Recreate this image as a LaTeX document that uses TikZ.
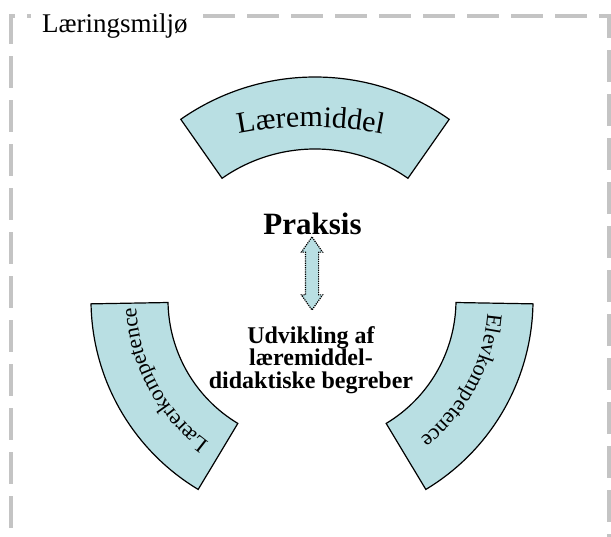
\documentclass[tikz,border=0pt]{standalone}
\usepackage{fontspec}
\setmainfont{Liberation Serif}
\usetikzlibrary{decorations.text,shapes.arrows}

\definecolor{bandblue}{RGB}{185,223,227}
\definecolor{framegray}{RGB}{196,196,196}

% band between two radii: centre, start angle, end angle, inner r, outer r
\newcommand\arcband[5]{%
  \draw[band] ([shift={(#2:#5)}]#1) arc[start angle=#2, end angle=#3, radius=#5]
    -- ([shift={(#3:#4)}]#1) arc[start angle=#3, end angle=#2, radius=#4] -- cycle;}
% text bent along an arc, running clockwise
\newcommand\arctext[6]{%
  \path[decorate, decoration={text along path, text align=center,
      text={|#6|#5}}]
    ([shift={(#2:#4)}]#1) arc[start angle=#2, end angle=#3, radius=#4];}
\newcommand\topfont{\fontsize{30}{36}\selectfont}
\newcommand\sidefont{\fontsize{22}{26}\selectfont}

\begin{document}
\begin{tikzpicture}[x=1pt,y=1pt]

\tikzset{band/.style={draw=black, line width=1.2pt, fill=bandblue},
         frame/.style={draw=framegray, line width=3.5pt,
                       dash pattern=on 32pt off 12pt, dash phase=16pt}}

\useasboundingbox (0,0) rectangle (611,536);

\coordinate (topc) at (315,225);
\coordinate (lowc) at (312,236);
\coordinate (textc) at (310.5,39);

% frame
\draw[frame] (11,-20) -- (11,520) -- (609,520) -- (609,-20);
\node[fill=white, inner xsep=11pt, inner ysep=4pt, anchor=base west,
      font=\fontsize{27}{32}\selectfont] (miljo) at (31,503) {Læringsmiljø};

% the three bands
\arcband{topc}{125}{55}{162}{234}
\arcband{lowc}{239}{181}{144}{221}
\arcband{lowc}{359}{301}{144}{221}

\arctext{textc}{110}{70}{370}{Læremiddel}{\topfont}
\arctext{lowc}{238.3}{178.3}{176}{Lærerkompetence}{\sidefont}
\arctext{lowc}{361.7}{301.7}{176}{Elevkompetence}{\sidefont}

% centre
\node[font=\bfseries\fontsize{31}{36}\selectfont, anchor=base]
  (praksis) at (312.5,301) {Praksis};
\node[double arrow, rotate=90, draw, densely dotted, line width=1.2pt,
      fill=bandblue, minimum height=73pt, minimum width=20pt, inner sep=6pt,
      double arrow head extend=4pt, double arrow tip angle=70]
  (pil) at (312,262.5) {};
\node[font=\bfseries\fontsize{24}{22.5}\selectfont, align=center]
  (udvikling) at (311,176) {Udvikling af\\læremiddel-\\didaktiske begreber};

\end{tikzpicture}
\end{document}
